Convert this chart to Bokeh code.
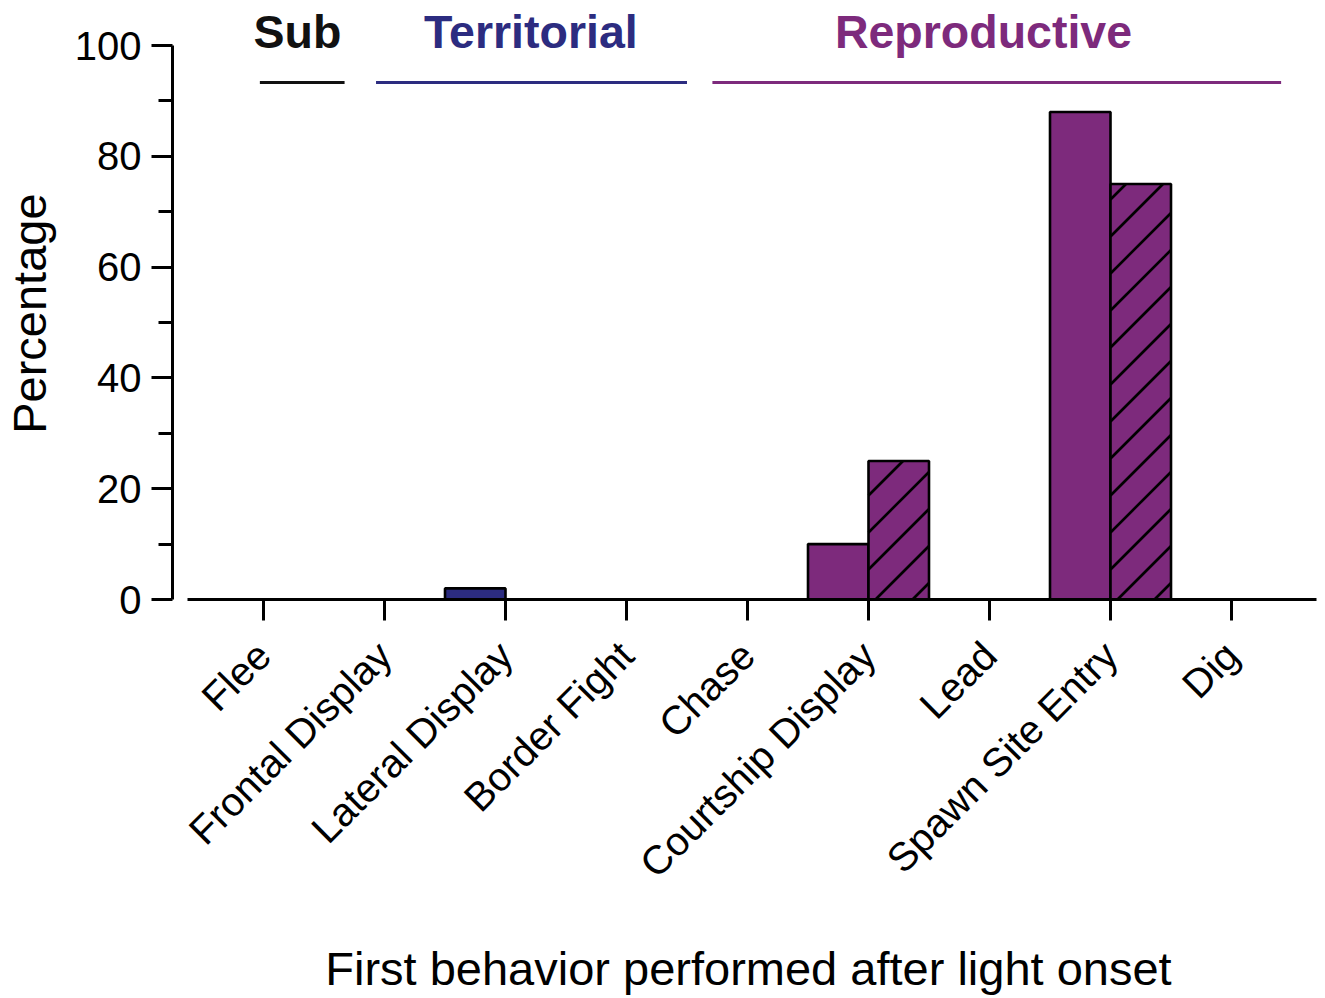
import math
from bokeh.plotting import figure
from bokeh.models import Range1d, FixedTicker, ColumnDataSource
from bokeh.core.properties import value
from bokeh.embed import file_html
from bokeh.resources import INLINE
from bokeh.transform import dodge

# ---------------- data ----------------
categories = ["Flee", "Frontal Display", "Lateral Display", "Border Fight", "Chase",
              "Courtship Display", "Lead", "Spawn Site Entry", "Dig"]
solid_values = [0, 0, 2, 0, 0, 10, 0, 88, 0]
hatched_values = [0, 0, 0, 0, 0, 25, 0, 75, 0]
group_names = ["Sub", "Territorial", "Reproductive"]
group_members = [["Flee"],
                 ["Frontal Display", "Lateral Display", "Border Fight"],
                 ["Chase", "Courtship Display", "Lead", "Spawn Site Entry", "Dig"]]
y_ticks = [0, 20, 40, 60, 80, 100]
y_minor_ticks = [10, 30, 50, 70, 90]
x_title = "First behavior performed after light onset"
y_title = "Percentage"

# ---------------- styles / positions ----------------
group_colors = ["#111111", "#2c2c80", "#7d2a7c"]
group_line_spans = [(-0.03, 0.67), (0.93, 3.50), (3.71, 8.41)]
group_label_x = [0.28, 2.21, 5.95]
group_line_y = 93.3
group_label_y = 102.5
FONT = "Liberation Sans"

W_PX, H_PX = 1325, 998
PX_PER_X, PX_PER_Y = 121.0, 5.54
X0 = -263 / PX_PER_X
X1 = X0 + W_PX / PX_PER_X
Y1 = 599 / PX_PER_Y
Y0 = Y1 - H_PX / PX_PER_Y
Y_AXIS_AT = -0.752
X_AXIS_START = -0.628
X_AXIS_END = 8.702
BAR_W = 0.5
x_title_pos = (4.008, -66.6)
y_title_pos = (-1.934, 51.6)

cat_color = {}
for members, col in zip(group_members, group_colors):
    for m in members:
        cat_color[m] = col

xs = list(range(len(categories)))
solid_src = ColumnDataSource(dict(
    x=[x for x, v in zip(xs, solid_values) if v > 0],
    top=[v for v in solid_values if v > 0],
    color=[cat_color[c] for c, v in zip(categories, solid_values) if v > 0],
))
hatch_src = ColumnDataSource(dict(
    x=[x for x, v in zip(xs, hatched_values) if v > 0],
    top=[v for v in hatched_values if v > 0],
    color=[cat_color[c] for c, v in zip(categories, hatched_values) if v > 0],
))

# 45-degree "/" hatch strokes for the hatched bars (spacing/phase in pixels)
px_x = W_PX / (X1 - X0)
px_y = H_PX / (Y1 - Y0)
HATCH_STEP, HATCH_PHASE = 37.0, 30.0
hx0, hy0, hx1, hy1 = [], [], [], []
for x, v in zip(hatch_src.data["x"], hatch_src.data["top"]):
    left = x + 0.25 - BAR_W / 2
    W = BAR_W * px_x
    H = v * px_y
    k = -int(W // HATCH_STEP) - 2
    while True:
        h = HATCH_PHASE + k * HATCH_STEP
        if h > H:
            break
        t0 = max(0.0, -h)
        t1 = min(W, H - h)
        if t1 > t0:
            hx0.append(left + t0 / px_x); hy0.append((h + t0) / px_y)
            hx1.append(left + t1 / px_x); hy1.append((h + t1) / px_y)
        k += 1

p = figure(width=W_PX, height=H_PX, output_backend="svg", toolbar_location=None,
           x_range=Range1d(X0, X1), y_range=Range1d(Y0, Y1),
           min_border_left=0, min_border_right=0, min_border_top=0, min_border_bottom=0)
p.outline_line_color = None
p.xgrid.visible = False
p.ygrid.visible = False
p.background_fill_color = "white"
p.border_fill_color = "white"

p.vbar(x=dodge("x", -0.25), top="top", bottom=0, width=BAR_W, source=solid_src,
       fill_color="color", line_color="black", line_width=2.6)
p.vbar(x=dodge("x", 0.25), top="top", bottom=0, width=BAR_W, source=hatch_src,
       fill_color="color", line_color=None)
p.segment(x0=hx0, y0=hy0, x1=hx1, y1=hy1, line_color="black", line_width=2.6)
p.vbar(x=dodge("x", 0.25), top="top", bottom=0, width=BAR_W, source=hatch_src,
       fill_color=None, line_color="black", line_width=2.6)

# group brackets and labels
for name, col, (x0, x1), lx in zip(group_names, group_colors, group_line_spans, group_label_x):
    p.line(x=[x0, x1], y=[group_line_y, group_line_y], line_color=col, line_width=3)
    p.text(x=[lx], y=[group_label_y], text=[name], text_color=col,
           text_font=value(FONT), text_font_style="bold", text_font_size="46.5px",
           text_align="center", text_baseline="middle")

# axis titles
p.text(x=[x_title_pos[0]], y=[x_title_pos[1]], text=[x_title], text_color="black",
       text_font=value(FONT), text_font_size="47px",
       text_align="center", text_baseline="middle")
p.text(x=[y_title_pos[0]], y=[y_title_pos[1]], text=[y_title], text_color="black",
       text_font=value(FONT), text_font_size="47px", angle=math.pi / 2,
       text_align="center", text_baseline="middle")

# y axis
ya = p.yaxis[0]
ya.fixed_location = Y_AXIS_AT
ya.ticker = FixedTicker(ticks=y_ticks, minor_ticks=y_minor_ticks)
ya.bounds = (0, 100)
ya.axis_line_width = 3
ya.major_tick_line_width = 3
ya.minor_tick_line_width = 3
ya.major_tick_out = 21
ya.major_tick_in = 0
ya.minor_tick_out = 14
ya.minor_tick_in = 0
ya.major_label_text_font = FONT
ya.major_label_text_font_size = "40px"
ya.major_label_text_color = "black"
ya.major_label_standoff = 10

# x axis
xa = p.xaxis[0]
xa.fixed_location = 0
xa.ticker = FixedTicker(ticks=xs, minor_ticks=[])
xa.major_label_overrides = {i: c for i, c in zip(xs, categories)}
xa.major_label_orientation = math.pi / 4
xa.bounds = (X_AXIS_START, X_AXIS_END)
xa.axis_line_width = 3
xa.major_tick_line_width = 3
xa.major_tick_out = 21
xa.major_tick_in = 0
xa.minor_tick_line_color = None
xa.major_label_text_font = FONT
xa.major_label_text_font_size = "40px"
xa.major_label_text_color = "black"
xa.major_label_standoff = 28

open("out.html", "w").write(file_html(p, INLINE))
